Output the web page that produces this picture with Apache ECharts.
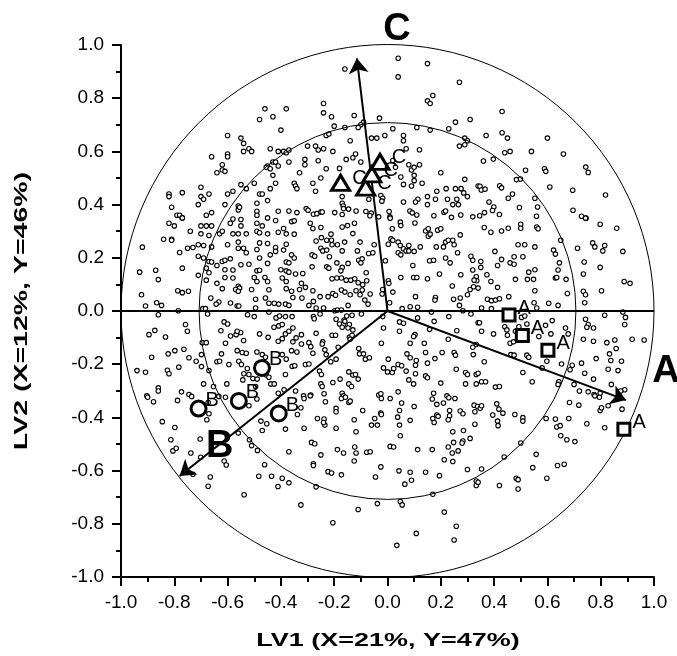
<!DOCTYPE html>
<html><head><meta charset="utf-8">
<script src="https://cdn.jsdelivr.net/npm/echarts@6/dist/echarts.min.js"></script>
<style>html,body{margin:0;padding:0;background:#fff}#c{width:677px;height:656px}</style>
</head><body><div id="c"></div>
<script>
// ---- data ----
const axisMin = -1, axisMax = 1, tickStep = 0.2;
const xTitle = 'LV1 (X=21%, Y=47%)';
const yTitle = 'LV2 (X=12%, Y=46%)';
const circleRadii = [1, 0.707];
const responseNames = ['A', 'B', 'C'];
const responseX = [0.895, -0.78, -0.115];
const responseY = [-0.335, -0.62, 0.95];
const samplesA = [[0.456,-0.015],[0.506,-0.092],[0.602,-0.148],[0.887,-0.445]];
const samplesB = [[-0.471,-0.214],[-0.558,-0.338],[-0.709,-0.367],[-0.408,-0.385]];
const samplesC = [[-0.176,0.482],[-0.082,0.464],[-0.059,0.514],[-0.028,0.561]];
const variableLoadings = [
[-0.46,0.76],[-0.38,0.76],[-0.48,0.72],[-0.43,0.73],[-0.40,0.68],[-0.60,0.66],[-0.55,0.65],[-0.54,0.63],[-0.52,0.61],[-0.51,0.60],[-0.54,0.60],[-0.60,0.59],[-0.60,0.58],[-0.66,0.58],[-0.44,0.61],[-0.41,0.60],[-0.39,0.60],[-0.38,0.595],[-0.37,0.605],[-0.43,0.56],[-0.42,0.56],[-0.41,0.545],[-0.45,0.545],[-0.455,0.54],[-0.44,0.535],[-0.37,0.56],[-0.62,0.55],[-0.62,0.53],[-0.61,0.525],[-0.64,0.52],[-0.33,0.52],[-0.43,0.51],[-0.42,0.48],[-0.35,0.48],[-0.345,0.47],[-0.34,0.46],[-0.50,0.48],[-0.53,0.46],[-0.55,0.475],[-0.44,0.46],[-0.58,0.45],[-0.60,0.44],[-0.48,0.44],[-0.47,0.44],[-0.45,0.415],[-0.49,0.405],[-0.70,0.465],[-0.67,0.44],[-0.70,0.43],[-0.69,0.42],[-0.71,0.40],[-0.77,0.445],[-0.82,0.44],[-0.82,0.43],[-0.81,0.39],[-0.61,0.40],[-0.56,0.395],[-0.56,0.38],[-0.555,0.39],[-0.79,0.36],[-0.78,0.36],[-0.77,0.35],[-0.68,0.36],[-0.66,0.37],[-0.49,0.375],[-0.49,0.36],[-0.45,0.35],[-0.41,0.375],[-0.37,0.376],[-0.34,0.37],
[0.04,0.95],[0.15,0.93],[-0.16,0.91],[0.04,0.88],[0.27,0.86],[0.17,0.81],[0.15,0.79],[0.16,0.78],[-0.24,0.78],[-0.24,0.745],[-0.21,0.73],[-0.125,0.735],[-0.03,0.725],[-0.09,0.71],[-0.10,0.70],[-0.11,0.69],[-0.20,0.695],[-0.16,0.69],[0.02,0.685],[0.11,0.69],[0.16,0.68],[0.23,0.685],[0.255,0.71],[0.31,0.72],[-0.23,0.66],[-0.22,0.665],[-0.14,0.64],[-0.06,0.65],[-0.04,0.65],[-0.01,0.66],[0.06,0.66],[0.06,0.64],[0.29,0.65],[0.30,0.64],[0.29,0.625],[0.27,0.62],[-0.30,0.62],[-0.27,0.62],[-0.26,0.605],[-0.24,0.61],[0.07,0.61],[0.12,0.606],[-0.31,0.57],[-0.31,0.55],[-0.26,0.565],[-0.205,0.60],[-0.155,0.57],[-0.13,0.576],[-0.12,0.59],[-0.10,0.56],[-0.23,0.535],[-0.18,0.536],[0.02,0.566],[0.03,0.54],[0.08,0.55],[0.12,0.55],[0.09,0.53],[0.10,0.54],[0.10,0.51],[0.10,0.49],[0.05,0.504],[0.06,0.476],[0.09,0.47],[0.13,0.48],[0.20,0.52],[0.29,0.495],[-0.28,0.48],[-0.27,0.45],[-0.25,0.50],[0.22,0.46],[0.255,0.46],[0.276,0.46],[0.286,0.444],[0.34,0.47],[0.185,0.45],[0.15,0.43],[0.114,0.42],[0.105,0.41],[0.06,0.41],[0.15,0.40],[0.18,0.42],[0.225,0.42],[0.26,0.42],[0.30,0.43],[0.245,0.40],[0.266,0.40],[-0.17,0.43],[-0.07,0.42],[-0.025,0.434],[-0.018,0.424],[-0.021,0.413],[-0.17,0.405],[-0.166,0.395],[-0.165,0.385],[-0.146,0.383],[-0.118,0.376],[-0.198,0.37],[-0.305,0.385],[-0.298,0.379],[-0.278,0.364],[-0.265,0.366],[-0.25,0.372],[-0.245,0.372],[-0.17,0.363],[-0.081,0.374],[-0.061,0.368],[-0.066,0.358],[-0.033,0.354],[0.006,0.374],[0.009,0.354],[0.084,0.376],[0.093,0.369],[0.11,0.361],[0.174,0.358],[0.212,0.371],[0.218,0.376],[0.24,0.352],[0.275,0.361],[0.32,0.354],
[0.43,0.75],[0.37,0.66],[0.43,0.67],[0.45,0.65],[0.60,0.65],[0.44,0.595],[0.46,0.60],[0.54,0.60],[0.66,0.59],[0.36,0.564],[0.397,0.571],[0.518,0.529],[0.589,0.535],[0.594,0.525],[0.744,0.541],[0.753,0.521],[0.484,0.494],[0.499,0.496],[0.347,0.469],[0.352,0.455],[0.366,0.458],[0.421,0.471],[0.428,0.463],[0.609,0.466],[0.695,0.454],[0.818,0.436],[0.453,0.424],[0.469,0.44],[0.553,0.424],[0.381,0.41],[0.399,0.391],[0.394,0.378],[0.364,0.37],[0.346,0.358],[0.42,0.363],[0.495,0.389],[0.563,0.391],[0.559,0.356],[0.696,0.379],[0.728,0.356],[0.745,0.349],
[-0.82,0.33],[-0.80,0.32],[-0.77,0.35],[-0.70,0.32],[-0.68,0.32],[-0.66,0.32],[-0.74,0.30],[-0.84,0.27],[-0.81,0.27],[-0.81,0.266],[-0.92,0.24],[-0.70,0.29],[-0.67,0.284],[-0.63,0.29],[-0.62,0.30],[-0.59,0.33],[-0.58,0.346],[-0.55,0.32],[-0.55,0.344],[-0.58,0.29],[-0.56,0.29],[-0.53,0.29],[-0.49,0.33],[-0.47,0.32],[-0.42,0.34],[-0.36,0.336],[-0.35,0.339],[-0.39,0.31],[-0.38,0.29],[-0.41,0.296],[-0.49,0.30],[-0.48,0.294],[-0.45,0.29],[-0.35,0.289],[-0.71,0.249],[-0.69,0.246],[-0.73,0.239],[-0.78,0.22],[-0.75,0.236],[-0.66,0.241],[-0.60,0.249],[-0.56,0.259],[-0.56,0.236],[-0.53,0.219],[-0.54,0.236],[-0.49,0.231],[-0.48,0.256],[-0.45,0.254],[-0.42,0.239],[-0.42,0.224],[-0.39,0.229],[-0.38,0.251],[-0.36,0.211],[-0.35,0.199],[-0.71,0.206],[-0.69,0.199],[-0.67,0.186],[-0.66,0.184],[-0.64,0.171],[-0.62,0.186],[-0.61,0.191],[-0.59,0.196],[-0.55,0.174],[-0.52,0.176],[-0.48,0.199],[-0.44,0.211],[-0.45,0.179],[-0.38,0.184],[-0.37,0.181],[-0.77,0.161],[-0.87,0.153],[-0.86,0.118],[-0.93,0.146],[-0.68,0.161],[-0.68,0.116],[-0.67,0.144],[-0.61,0.155],[-0.58,0.154],[-0.49,0.151],[-0.48,0.153],[-0.50,0.126],[-0.49,0.111],[-0.46,0.126],[-0.45,0.111],[-0.40,0.155],[-0.38,0.151],[-0.37,0.146],[-0.345,0.139],[-0.395,0.124],[-0.38,0.111],[-0.64,0.104],[-0.61,0.126],[-0.58,0.124],[-0.62,0.084],[-0.56,0.093],[-0.555,0.086],[-0.57,0.081],[-0.56,0.074],[-0.51,0.081],[-0.445,0.08],[-0.38,0.084],[-0.36,0.074],[-0.33,0.081],[-0.787,0.076],[-0.77,0.069],[-0.747,0.074],[-0.923,0.061],[-0.71,0.134],[-0.663,0.049],[-0.633,0.034],[-0.643,0.026],[-0.589,0.03],[-0.564,0.019],[-0.558,0.019],[-0.495,0.044],[-0.458,0.049],[-0.445,0.029],[-0.425,0.029],[-0.408,0.026],[-0.383,0.026],[-0.37,0.021],[-0.355,0.051],[-0.908,0.019],[-0.866,0.031],[-0.848,0.021],[-0.785,0.001],[-0.693,0.009],[-0.683,0.009],[-0.675,-0.011],[-0.495,0.011],[-0.86,-0.014],[-0.525,-0.014],[-0.5,-0.021],[-0.445,-0.004],[-0.418,-0.026],[-0.405,-0.019],[-0.383,-0.021],[-0.358,-0.021],[-0.758,-0.051],[-0.751,-0.076],[-0.895,-0.089],[-0.873,-0.073],[-0.833,-0.098],[-0.613,-0.041],[-0.6,-0.049],[-0.625,-0.074],[-0.589,-0.094],[-0.568,-0.089],[-0.551,-0.081],[-0.564,-0.076],[-0.54,-0.111],[-0.48,-0.086],[-0.448,-0.099],[-0.426,-0.061],[-0.408,-0.056],[-0.395,-0.051],[-0.383,-0.086],[-0.37,-0.076],[-0.355,-0.064],[-0.41,-0.114],[-0.395,-0.104],[-0.355,-0.116],[-0.343,-0.101],[-0.695,-0.119],[-0.68,-0.119],[-0.608,-0.121],[-0.823,-0.161],[-0.798,-0.149],[-0.764,-0.144],[-0.885,-0.174],[-0.745,-0.176],[-0.698,-0.164],[-0.718,-0.189],[-0.623,-0.161],[-0.564,-0.149],[-0.545,-0.156],[-0.53,-0.159],[-0.49,-0.154],[-0.47,-0.164],[-0.458,-0.174],[-0.395,-0.164],[-0.38,-0.181],[-0.36,-0.149],[-0.34,-0.154],[-0.64,-0.191],[-0.63,-0.189],[-0.595,-0.201],[-0.558,-0.189],[-0.548,-0.201],[-0.698,-0.209],[-0.67,-0.224],[-0.94,-0.224],[-0.908,-0.23],[-0.826,-0.223],[-0.82,-0.236],[-0.783,-0.211],[-0.526,-0.216],[-0.539,-0.236],[-0.52,-0.239],[-0.543,-0.259],[-0.505,-0.254],[-0.489,-0.256],[-0.455,-0.241],[-0.445,-0.249],[-0.438,-0.274],[-0.425,-0.274],[-0.383,-0.239],[-0.358,-0.208],[-0.348,-0.206],[-0.69,-0.274],[-0.653,-0.284],[-0.603,-0.274],[-0.495,-0.284],[-0.86,-0.289],[-0.86,-0.301],[-0.773,-0.304],[-0.745,-0.314],[-0.41,-0.309],[-0.388,-0.296],[-0.345,-0.301],[-0.903,-0.319],
[-0.29,0.33],[-0.28,0.31],[-0.25,0.314],[-0.17,0.316],[-0.15,0.321],[-0.124,0.33],[-0.212,0.289],[-0.13,0.291],[-0.268,0.263],[-0.248,0.276],[-0.228,0.266],[-0.21,0.266],[-0.208,0.249],[-0.188,0.249],[-0.161,0.259],[-0.103,0.259],[-0.25,0.236],[-0.243,0.226],[-0.228,0.229],[-0.17,0.226],[-0.113,0.226],[-0.071,0.216],[-0.055,0.219],[-0.05,0.249],[-0.283,0.211],[-0.273,0.206],[-0.283,0.166],[-0.218,0.204],[-0.228,0.166],[-0.22,0.161],[-0.19,0.181],[-0.17,0.164],[-0.175,0.151],[-0.148,0.179],[-0.108,0.191],[-0.095,0.196],[-0.1,0.181],[-0.318,0.141],[-0.308,0.089],[-0.323,0.104],[-0.321,0.049],[-0.208,0.121],[-0.19,0.124],[-0.173,0.124],[-0.155,0.116],[-0.138,0.116],[-0.123,0.121],[-0.08,0.144],[-0.078,0.114],[-0.28,0.076],[-0.278,0.036],[-0.253,0.054],[-0.223,0.054],[-0.205,0.066],[-0.195,0.059],[-0.173,0.079],[-0.16,0.071],[-0.14,0.061],[-0.118,0.076],[-0.103,0.061],[-0.095,0.079],[-0.093,0.099],[-0.11,0.106],[-0.065,0.064],[-0.085,0.041],[-0.073,0.026],[-0.148,0.021],[-0.295,0.021],[-0.268,0.011],[-0.24,0.011],[-0.198,0.001],[-0.188,0.004],[-0.173,0.004],[-0.278,-0.021],[-0.275,-0.029],[-0.253,-0.011],[-0.193,-0.031],[-0.163,-0.034],[-0.153,-0.019],[-0.133,-0.016],[-0.098,-0.011],[-0.18,-0.049],[-0.165,-0.051],[-0.143,-0.051],[-0.16,-0.039],[-0.17,-0.061],[-0.148,-0.064],[-0.13,-0.071],[-0.268,-0.084],[-0.208,-0.091],[-0.195,-0.091],[-0.143,-0.099],[-0.133,-0.091],[-0.323,-0.089],[-0.323,-0.124],[-0.295,-0.119],[-0.288,-0.134],[-0.243,-0.116],[-0.245,-0.124],[-0.28,-0.159],[-0.235,-0.146],[-0.23,-0.164],[-0.185,-0.136],[-0.14,-0.106],[-0.108,-0.141],[-0.105,-0.161],[-0.09,-0.161],[-0.083,-0.181],[-0.068,-0.176],[-0.213,-0.191],[-0.193,-0.181],[-0.308,-0.201],[-0.295,-0.199],[-0.255,-0.226],[-0.248,-0.239],[-0.205,-0.269],[-0.178,-0.256],[-0.145,-0.229],[-0.13,-0.241],[-0.12,-0.239],[-0.11,-0.256],[-0.145,-0.274],[-0.135,-0.284],[-0.25,-0.274],[-0.245,-0.284],[-0.288,-0.316],[-0.238,-0.311],[-0.17,-0.309],[-0.165,-0.319],[-0.315,-0.319],
[0.01,0.349],[0.048,0.334],[0.05,0.321],[0.103,0.331],[0.018,0.309],[0.143,0.301],[0.153,0.309],[0.013,0.271],[0.02,0.266],[0.003,0.251],[0.04,0.259],[0.048,0.246],[0.08,0.246],[0.06,0.234],[0.04,0.219],[0.05,0.211],[0.07,0.226],[0.08,0.226],[0.1,0.224],[0.123,0.241],[0.153,0.281],[0.16,0.289],[0.188,0.304],[0.2,0.309],[0.273,0.286],[0.218,0.259],[0.228,0.266],[0.245,0.266],[0.25,0.249],[0.21,0.241],[0.183,0.241],[-0.008,0.189],[0.095,0.171],[0.158,0.189],[0.173,0.191],[0.218,0.199],[0.263,0.219],[0.235,0.181],[0.313,0.206],[0.32,0.191],[0.32,0.154],[0.098,0.126],[0.11,0.126],[0.05,0.126],[0.15,0.121],[0.195,0.139],[0.275,0.136],[0.333,0.129],[0.335,0.114],[0.325,0.116],[0.003,0.114],[0.005,0.104],[-0.018,0.081],[-0.02,0.064],[0.02,0.071],[0.008,0.031],[0.105,0.054],[0.18,0.051],[0.178,0.041],[0.243,0.094],[0.248,0.044],[0.273,0.049],[0.3,0.061],[0.31,0.081],[0.323,0.091],[0.27,0.021],[0.283,0.001],[0.055,0.009],[0.085,0.016],[0.113,0.014],[0.165,-0.004],[0.313,-0.011],[-0.018,-0.021],[0.045,-0.041],[0.06,-0.046],[0.113,-0.026],[0.175,-0.039],[0.23,-0.021],[0.34,-0.044],[-0.015,-0.064],[0.045,-0.076],[0.158,-0.069],[0.26,-0.074],[0.103,-0.089],[0.098,-0.096],[0.138,-0.121],[0.085,-0.121],[-0.023,-0.121],[0.228,-0.106],[0.32,-0.136],[0.333,-0.126],[0.143,-0.156],[0.205,-0.156],[0.25,-0.156],[0.255,-0.166],[0.322,-0.164],[0.003,-0.181],[0.073,-0.161],[0.085,-0.176],[0.108,-0.186],[0.105,-0.204],[0.04,-0.201],[0.053,-0.206],[0.15,-0.196],[0.178,-0.179],[-0.015,-0.214],[0.0,-0.229],[0.018,-0.231],[0.023,-0.216],[0.07,-0.226],[0.105,-0.236],[0.143,-0.244],[0.15,-0.251],[0.08,-0.259],[0.098,-0.274],[0.258,-0.219],[0.293,-0.231],[0.3,-0.239],[0.333,-0.239],[0.2,-0.271],[0.293,-0.274],[0.333,-0.274],[0.04,-0.304],[0.173,-0.309],[0.223,-0.319],[-0.033,-0.316],[-0.025,-0.311],
[0.363,0.314],[0.388,0.296],[0.428,0.301],[0.453,0.311],[0.5,0.326],[0.5,0.311],[0.56,0.316],[0.565,0.309],[0.743,0.349],[0.798,0.326],[0.86,0.311],[0.49,0.249],[0.515,0.249],[0.553,0.241],[0.65,0.266],[0.623,0.229],[0.63,0.214],[0.713,0.236],[0.77,0.256],[0.778,0.241],[0.815,0.246],[0.808,0.226],[0.883,0.224],[0.403,0.224],[0.35,0.186],[0.35,0.164],[0.428,0.194],[0.413,0.171],[0.46,0.181],[0.475,0.176],[0.475,0.204],[0.508,0.204],[0.645,0.181],[0.64,0.154],[0.738,0.184],[0.798,0.164],[0.53,0.146],[0.553,0.155],[0.373,0.136],[0.388,0.111],[0.48,0.119],[0.525,0.119],[0.548,0.119],[0.63,0.124],[0.635,0.126],[0.67,0.119],[0.735,0.139],[0.888,0.111],[0.91,0.104],[0.34,0.086],[0.413,0.089],[0.553,0.076],[0.675,0.066],[0.735,0.074],[0.743,0.061],[0.803,0.076],[0.375,0.044],[0.39,0.039],[0.405,0.041],[0.42,0.046],[0.455,0.054],[0.353,0.011],[0.39,0.009],[0.55,0.031],[0.56,0.011],[0.605,0.029],[0.64,0.021],[0.74,0.031],[0.815,-0.016],[0.883,-0.004],[0.893,-0.024],[0.89,-0.051],[0.503,-0.024],[0.515,-0.019],[0.345,-0.044],[0.44,-0.059],[0.448,-0.071],[0.493,-0.059],[0.523,-0.049],[0.593,-0.054],[0.618,-0.036],[0.668,-0.064],[0.743,-0.031],[0.753,-0.051],[0.748,-0.061],[0.773,-0.064],[0.353,-0.076],[0.398,-0.086],[0.45,-0.091],[0.48,-0.076],[0.568,-0.096],[0.613,-0.086],[0.678,-0.086],[0.735,-0.106],[0.773,-0.114],[0.823,-0.119],[0.853,-0.109],[0.918,-0.106],[0.963,-0.109],[0.46,-0.121],[0.473,-0.116],[0.858,-0.141],[0.463,-0.164],[0.475,-0.166],[0.523,-0.166],[0.53,-0.174],[0.363,-0.191],[0.598,-0.189],[0.653,-0.199],[0.783,-0.179],[0.833,-0.161],[0.838,-0.186],[0.878,-0.189],[0.693,-0.204],[0.685,-0.221],[0.728,-0.196],[0.74,-0.234],[0.828,-0.219],[0.865,-0.224],[0.34,-0.234],[0.508,-0.231],[0.58,-0.214],[0.353,-0.266],[0.368,-0.266],[0.543,-0.266],[0.643,-0.266],[0.64,-0.276],[0.7,-0.276],[0.72,-0.301],[0.773,-0.256],[0.84,-0.276],[0.89,-0.296],[0.875,-0.301],[0.405,-0.286],[0.42,-0.284],[0.753,-0.304],[0.775,-0.314],[0.798,-0.309],
[-0.9,-0.324],[-0.878,-0.341],[-0.788,-0.336],[-0.735,-0.321],[-0.673,-0.344],[-0.67,-0.386],[-0.678,-0.409],[-0.633,-0.321],[-0.608,-0.324],[-0.52,-0.356],[-0.49,-0.331],[-0.845,-0.416],[-0.798,-0.438],[-0.813,-0.484],[-0.805,-0.526],[-0.793,-0.516],[-0.703,-0.481],[-0.738,-0.534],[-0.701,-0.55],[-0.73,-0.614],[-0.665,-0.624],[-0.673,-0.659],[-0.613,-0.564],[-0.605,-0.579],[-0.56,-0.459],[-0.538,-0.691],[-0.475,-0.414],[-0.453,-0.424],[-0.47,-0.449],[-0.383,-0.444],[-0.518,-0.484],[-0.51,-0.506],[-0.488,-0.524],[-0.37,-0.529],[-0.461,-0.578],[-0.483,-0.621],[-0.435,-0.621],[-0.395,-0.629],[-0.37,-0.646],[-0.411,-0.66],[-0.325,-0.364],[-0.338,-0.389],[-0.325,-0.729],
[-0.313,-0.329],[-0.29,-0.319],[-0.233,-0.341],[-0.173,-0.329],[-0.158,-0.324],[-0.145,-0.344],[-0.14,-0.339],[-0.193,-0.366],[-0.193,-0.379],[-0.093,-0.374],[-0.023,-0.329],[0.01,-0.329],[0.053,-0.346],[0.1,-0.359],[0.045,-0.374],[0.038,-0.399],[-0.025,-0.384],[-0.023,-0.389],[-0.048,-0.404],[-0.06,-0.429],[-0.038,-0.429],[0.045,-0.429],[0.085,-0.411],[0.048,-0.469],[-0.125,-0.409],[-0.263,-0.404],[-0.238,-0.406],[-0.235,-0.429],[-0.24,-0.419],[-0.313,-0.441],[-0.193,-0.441],[-0.118,-0.454],[-0.285,-0.494],[-0.273,-0.499],[-0.188,-0.521],[-0.165,-0.534],[-0.123,-0.511],[-0.118,-0.534],[-0.078,-0.531],[-0.065,-0.529],[-0.25,-0.541],[-0.125,-0.564],[-0.278,-0.574],[-0.278,-0.581],[-0.223,-0.604],[-0.21,-0.609],[-0.173,-0.616],[0.01,-0.509],[0.023,-0.511],[0.113,-0.521],[-0.025,-0.586],[-0.045,-0.624],[0.043,-0.601],[0.085,-0.606],[0.09,-0.636],[0.065,-0.651],[0.143,-0.606],[0.195,-0.619],[0.168,-0.521],[0.168,-0.331],[0.185,-0.351],[0.21,-0.346],[0.23,-0.326],[0.253,-0.329],[0.185,-0.391],[0.19,-0.396],[0.17,-0.404],[0.175,-0.419],[0.233,-0.374],[0.233,-0.394],[0.228,-0.409],[0.273,-0.376],[0.283,-0.386],[0.325,-0.354],[0.338,-0.359],[0.328,-0.379],[0.328,-0.426],[0.285,-0.449],[0.245,-0.454],[0.31,-0.479],[0.248,-0.494],[0.283,-0.489],[0.28,-0.496],[0.228,-0.511],[0.243,-0.534],[0.265,-0.526],[0.213,-0.559],[0.245,-0.566],[0.3,-0.596],[0.333,-0.639],[0.333,-0.656],[-0.268,-0.661],[-0.038,-0.724],[-0.11,-0.746],[0.048,-0.716],[0.055,-0.729],[0.17,-0.689],[0.213,-0.756],[-0.205,-0.796],[0.258,-0.809],[0.108,-0.836],[0.25,-0.861],[0.035,-0.881],
[0.348,-0.366],[0.353,-0.356],[0.41,-0.349],[0.418,-0.369],[0.433,-0.384],[0.395,-0.391],[0.413,-0.414],[0.415,-0.431],[0.478,-0.389],[0.508,-0.401],[0.508,-0.414],[0.595,-0.404],[0.63,-0.406],[0.68,-0.404],[0.635,-0.436],[0.648,-0.431],[0.65,-0.469],[0.673,-0.484],[0.703,-0.491],[0.748,-0.424],[0.683,-0.344],[0.718,-0.354],[0.795,-0.324],[0.778,-0.319],[0.798,-0.374],[0.803,-0.364],[0.828,-0.356],[0.815,-0.439],[0.88,-0.369],[0.5,-0.496],[0.438,-0.549],[0.558,-0.539],[0.353,-0.594],[0.34,-0.644],[0.545,-0.589],[0.638,-0.581],[0.663,-0.576],[0.598,-0.629],[0.483,-0.629],[0.49,-0.634],[0.49,-0.669],[0.42,-0.656]
];

// ---- chart ----
const FONT = '"Liberation Sans", Arial, Helvetica, sans-serif';
const chart = echarts.init(document.getElementById('c'), null, {renderer: 'canvas'});

function axisCommon() {
  return {
    type: 'value', min: axisMin, max: axisMax, interval: tickStep,
    axisLine: {show: true, onZero: false, lineStyle: {color: '#000', width: 2}},
    axisTick: {show: true, inside: false, length: 9, lineStyle: {color: '#000', width: 2}},
    minorTick: {show: true, splitNumber: 2, length: 5, lineStyle: {color: '#000', width: 2}},
    splitLine: {show: false},
    axisLabel: {color: '#000', fontFamily: FONT, fontSize: 19, formatter: v => v.toFixed(1)}
  };
}
const xAxis = axisCommon();
xAxis.axisLabel.margin = 16;
const yAxis = axisCommon();
yAxis.axisLabel.margin = 17;

const sampleLabel = {show: true, position: 'right', distance: 1, offset: [0, -7], opacity: 1,
  color: '#000', fontFamily: FONT, fontSize: 20, formatter: p => p.seriesName};
const markerStyle = {color: '#fff', borderColor: '#000', borderWidth: 3, opacity: 1};

const option = {
  animation: false,
  backgroundColor: '#fff',
  grid: {left: 121, right: 23, top: 45, bottom: 79, outerBoundsMode: 'none'},
  xAxis: xAxis,
  yAxis: yAxis,
  graphic: [
    {type: 'text', x: 388, y: 641, scaleX: 1.42, silent: true,
     style: {text: xTitle, fill: '#000', font: 'bold 19px ' + FONT, textAlign: 'center', textVerticalAlign: 'middle'}},
    {type: 'text', x: 22, y: 311, rotation: Math.PI / 2, scaleX: 1.5, silent: true,
     style: {text: yTitle, fill: '#000', font: 'bold 19px ' + FONT, textAlign: 'center', textVerticalAlign: 'middle'}}
  ],
  series: [
    {
      type: 'scatter', name: 'variables', data: variableLoadings, symbol: 'circle', symbolSize: 4.5,
      itemStyle: {color: '#fff', borderColor: '#000', borderWidth: 1.1, opacity: 1}, z: 2, silent: true
    },
    {
      type: 'custom', name: 'circles', data: circleRadii.map(r => [0, 0, r]), clip: false, z: 3, silent: true,
      renderItem: (params, api) => {
        const c = api.coord([api.value(0), api.value(1)]);
        const r = api.size([api.value(2), 0])[0];
        return {type: 'circle', shape: {cx: c[0], cy: c[1], r: r},
          style: {fill: null, stroke: '#000', lineWidth: 1}};
      }
    },
    {
      type: 'line', name: 'zero', data: [[axisMin, 0], [axisMax, 0]], symbol: 'none',
      lineStyle: {color: '#000', width: 2}, z: 3, silent: true
    },
    {
      type: 'lines', name: 'responses', coordinateSystem: 'cartesian2d', z: 4, silent: true,
      data: responseNames.map((n, i) => ({coords: [[0, 0], [responseX[i], responseY[i]]]})),
      symbol: ['none', 'arrow'], symbolSize: 15,
      lineStyle: {color: '#000', width: 2, opacity: 1}
    },
    {
      type: 'scatter', name: 'responseLabels', z: 5, clip: false, silent: true,
      data: responseNames.map((n, i) => ({name: n, value: [responseX[i], responseY[i]]})),
      symbol: 'circle', symbolSize: 1, itemStyle: {color: 'rgba(0,0,0,0)', opacity: 1},
      label: {show: true, position: 'inside', offset: [40, -29], formatter: p => p.name, opacity: 1,
        color: '#000', fontFamily: FONT, fontSize: 38, fontWeight: 'bold'}
    },
    {
      type: 'scatter', name: 'A', data: samplesA, symbol: 'rect', symbolSize: 12, z: 6, clip: false,
      itemStyle: markerStyle, label: sampleLabel
    },
    {
      type: 'scatter', name: 'B', data: samplesB, symbol: 'circle', symbolSize: 15, z: 6, clip: false,
      itemStyle: markerStyle, label: Object.assign({}, sampleLabel, {distance: -2, offset: [0, -8]})
    },
    {
      type: 'scatter', name: 'C', data: samplesC, symbol: 'triangle', symbolSize: [18, 15], z: 6, clip: false,
      itemStyle: markerStyle, label: Object.assign({}, sampleLabel, {offset: [0, -4]})
    }
  ]
};
chart.setOption(option);
</script>
</body></html>
